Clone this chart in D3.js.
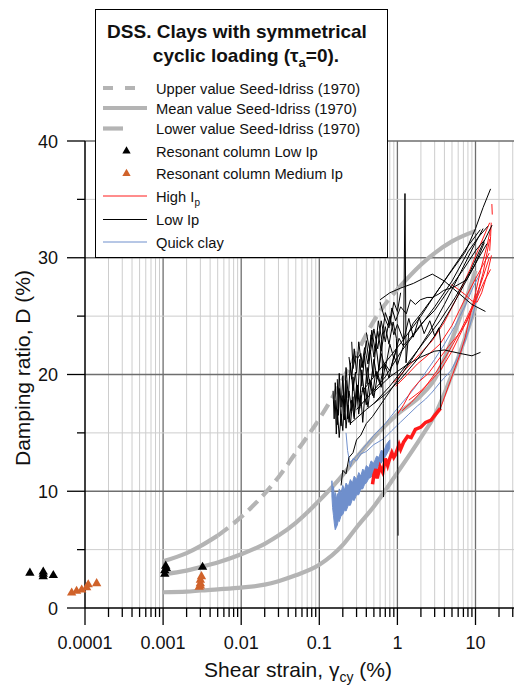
<!DOCTYPE html>
<html>
<head>
<meta charset="utf-8">
<script src="https://cdn.jsdelivr.net/npm/d3@7"></script>
<style>
  body { margin: 0; background: #fff; }
  svg { display: block; }
  text { font-family: "Liberation Sans", Arial, sans-serif; fill: #111; }
</style>
</head>
<body>
<svg id="chart" width="514" height="686"></svg>
<script>
// ---- Seed-Idriss (1970) reference curves: strain (%) vs damping (%) ----
const strainSI = [0.001, 0.002, 0.003, 0.005, 0.01, 0.02, 0.03, 0.05, 0.1, 0.2, 0.3, 0.5, 1, 2, 3, 5, 10];
const upperSI  = [4.0, 4.7, 5.3, 6.2, 7.8, 9.8, 11.2, 13.3, 16.2, 19.6, 21.8, 24.6, 27.3, 29.4, 30.4, 31.4, 32.3];
const meanSI   = [2.9, 3.2, 3.5, 3.9, 4.6, 5.5, 6.2, 7.3, 9.2, 11.4, 12.9, 14.6, 16.6, 18.2, 19.6, 23.0, 28.9];
const lowerSI  = [1.35, 1.4, 1.5, 1.6, 1.75, 2.0, 2.3, 2.8, 3.7, 5.4, 6.9, 8.7, 11.6, 14.6, 16.5, 20.0, 25.8];

// ---- Resonant column results ----
const rcLowStrain = [1.97e-5, 2.92e-5, 2.92e-5, 2.92e-5, 3.93e-5, 0.00105, 0.00105, 0.0011, 0.00108, 0.0032];
const rcLowD      = [3.0, 2.7, 2.9, 3.1, 2.8, 2.9, 3.2, 3.4, 3.6, 3.5];
const rcMedStrain = [6.75e-5, 7.8e-5, 9.07e-5, 1.05e-4, 1.1e-4, 1.41e-4, 0.0029, 0.003, 0.003, 0.0031, 0.003];
const rcMedD      = [1.3, 1.45, 1.55, 1.75, 2.0, 2.1, 1.8, 2.1, 2.4, 2.7, 1.9];

// ---- DSS tests, low plasticity clays: [strain %, D %] ----
const lowIpTests = [
  [[0.35,18.5],[0.5,19.8],[0.8,21.5],[1.2,23],[2,25],[3,26.8],[4.5,28.5],[7.4,30.5],[10,32.5],[12.5,34.3],[15.6,35.9]],
  [[0.3,17],[0.45,18.3],[0.7,19.8],[1.1,21.9],[1.8,23.8],[3,25.8],[5,28],[8,30.5],[11,31.8],[14.4,32.7]],
  [[0.5,17.5],[0.8,19],[1.3,20.8],[2.2,22.8],[3.5,24.6],[5.5,26.6],[8.5,28.8],[12,31],[16.3,32.8]],
  [[0.25,15.8],[0.4,17],[0.7,18.3],[1.1,19.6],[1.8,21.3],[3,23.3],[5,25.8],[8,28.3],[11,30],[14,31.2]],
  [[0.6,26.4],[0.8,27.0],[1.1,27.4],[1.6,27.8],[2.1,28.2],[2.8,28.6],[4,28.0],[6,27.0],[9,26.0],[13.4,25.4]],
  [[0.6,26.2],[0.68,24.9],[0.78,24.0],[0.85,25.7],[0.95,24.6],[1.1,25.8],[1.3,25.2],[1.47,26.4],[1.7,26.0],[1.97,26.4],[2.4,26.6],[2.8,26.6],[3.4,26.9],[3.9,27.2],[5.3,27.5],[7.7,28.1],[10,29.5],[13,31.3]],
  [[0.5,18.5],[0.8,19.8],[1.3,20.8],[2,21.5],[3,22.0],[4,22.1],[6.4,21.8],[9,21.6],[11.6,21.9]],
  [[0.19,10.5],[0.2,11.8],[0.22,11.5],[0.24,12.9],[0.27,13.3],[0.3,14.4],[0.34,14.8],[0.4,15.8],[0.48,16.4],[0.58,17.2],[0.7,18],[1.0,19.5],[1.5,21.2],[2.5,23.5],[4,26],[6.5,28.8],[9.5,31],[12.5,32.5]],
  [[0.17,19.6],[0.175,16.5],[0.18,18.8],[0.19,15.6],[0.2,18.2],[0.21,16.8],[0.22,19.5],[0.23,16.2],[0.24,18.6],[0.26,16.9],[0.27,19.8],[0.29,17.2],[0.31,19.1],[0.33,17.6],[0.35,20.4],[0.38,18.1],[0.41,20.6],[0.45,18.9],[0.5,21.3],[0.55,19.6],[0.62,21.8],[0.7,20.5],[0.8,22.6],[0.9,21.4],[1.05,23.1],[1.2,22.4],[1.25,35.5],[1.29,21.0],[1.4,23.6],[1.6,24.4],[2.0,25.2],[3,26.8],[5,29],[8,31],[11.5,32.4]],
  [[0.16,17.8],[0.165,14.9],[0.17,17],[0.18,14.6],[0.19,16.6],[0.2,15.2],[0.21,17.9],[0.22,15.4],[0.235,17.4],[0.25,15.7],[0.27,18.1],[0.28,16.4],[0.3,18.7],[0.32,16.6],[0.34,18.2],[0.36,15.9],[0.39,18.9],[0.42,17.2],[0.46,19.4],[0.5,18.0],[0.56,20.1],[0.62,18.9],[0.7,20.8],[0.78,19.7],[0.9,21.6],[1.0,20.8],[1.2,22.5],[1.5,23.2],[2,24.3],[3,25.5],[4.5,27.2],[7,29],[10,30.6],[13,31.5]],
  [[0.2,19.5],[0.21,17.3],[0.22,20.6],[0.235,18],[0.25,21],[0.27,18.6],[0.29,20.2],[0.31,17.9],[0.33,21.3],[0.35,19.0],[0.38,21.6],[0.41,19.2],[0.45,22.1],[0.49,19.8],[0.53,22.6],[0.58,20.4],[0.63,23],[0.66,17.5],[0.665,9.5]],
  [[0.24,21.5],[0.26,19.6],[0.28,22.2],[0.3,20.1],[0.32,22.8],[0.35,20.6],[0.38,22.3],[0.42,20.9],[0.46,23.4],[0.5,21.5],[0.56,23.7],[0.62,22],[0.7,24.1],[0.78,22.6],[0.88,24.5],[0.97,23.1],[1.0,20],[1.02,6.2]],
  [[0.4,23.6],[0.45,21.8],[0.5,23.9],[0.56,22.2],[0.62,24.6],[0.7,22.8],[0.8,25],[0.9,23.4],[1.0,24.3],[1.2,22.9],[1.4,24.8],[1.6,23.2],[1.9,24.9],[2.2,23.5],[2.6,24.6],[3.0,23.3],[3.4,24],[3.56,22.9],[3.58,17]],
  [[0.15,18.6],[0.155,16.2],[0.16,19.3],[0.17,15.7],[0.18,20.1],[0.19,17.2],[0.2,19.9],[0.21,16.1],[0.22,18.5],[0.24,15.9],[0.26,17.8],[0.28,16.2],[0.3,19.2],[0.33,17.1],[0.36,18.9],[0.4,17.4],[0.44,19.6],[0.48,18.2],[0.53,20.3],[0.6,19.1],[0.68,21],[0.8,20.3],[1,22.4]],
  [[0.26,22.8],[0.27,20.5],[0.29,21.6],[0.31,21.4],[0.34,21.8],[0.36,20.6],[0.4,22.9],[0.43,21.2],[0.47,23.8],[0.52,22],[0.57,24.6],[0.63,23],[0.7,25.3],[0.8,24.2],[0.9,26.2],[1.0,25.4],[1.1,27]]
];

// ---- DSS tests, high plasticity clays ----
const highIpBand = [[0.48,10.6],[0.5,11.4],[0.53,11.9],[0.55,11.1],[0.6,12.1],[0.65,11.6],[0.7,12.8],[0.75,12.2],[0.78,12.6],[0.85,13.3],[0.9,12.9],[0.94,13.1],[1.05,14.0],[1.1,13.6],[1.2,14.2],[1.35,14.7],[1.5,14.6],[1.7,15.3],[2.0,15.5],[2.3,15.9],[2.7,16.1],[3.1,16.6],[3.56,17.1]];
const highIpTests = [
  [[3.56,17.1],[4.5,19],[5.5,20.6],[6.4,21.8],[7.4,23.2],[8.5,25],[10,27],[12,29.3],[14,31],[15.6,32.5]],
  [[1.0,16.6],[1.2,17.4],[1.5,18.6],[1.9,19.4],[2.5,20.1],[3.3,21.2],[4.5,22.4],[6,23.4],[7.7,24.5],[10,26.3],[12.5,28.7],[15.2,31.6]],
  [[0.95,19.0],[1.3,19.9],[1.8,20.9],[2.4,21.6],[3.5,22.6],[5,24.2],[7,26.2],[10,28.2],[13,29.6],[15,30.4]],
  [[1.4,17.8],[2,18.6],[2.8,19.6],[3.6,20.4],[5,22],[7,24],[10,26.3],[13,28],[15.6,29]],
  [[4.9,27.7],[6,27.3],[7.5,26.8],[9,26.3],[10.5,26.2],[12,27],[14,28.5],[16,30.2]],
  [[1.15,16.9],[1.5,17.6],[2.2,18.8],[3.2,20.3],[4.5,21.9],[6.5,23.8],[9,25.8],[12,28],[15,30]],
  [[0.9,19.3],[1.3,20.5],[1.9,21.7],[2.8,22.9],[4,24.5],[6,26.8],[8.5,29],[11,30.8],[13.5,32.2],[15.2,33]],
  [[16.2,34.6],[16.4,33.7]],
  [[15.9,33.0],[15.6,31.8],[15.2,30.6]]
];

// ---- DSS tests, quick clay ----
const quickStrain = [0.145, 0.148, 0.152, 0.156, 0.16, 0.165, 0.17, 0.175, 0.18, 0.19, 0.2, 0.21, 0.22, 0.235, 0.25, 0.265, 0.28, 0.3, 0.32, 0.34, 0.36, 0.38, 0.4, 0.43, 0.46, 0.5, 0.54, 0.58, 0.62, 0.67, 0.72, 0.8];
const quickHigh   = [10.9, 10.0, 10.4, 9.5, 9.9, 9.3, 9.8, 9.6, 10.2, 9.9, 10.5, 10.1, 10.7, 10.4, 11.0, 10.7, 11.3, 11.0, 11.6, 11.3, 11.9, 11.7, 12.2, 12.0, 12.6, 12.4, 13.0, 12.9, 13.5, 13.4, 14.0, 14.4];
const quickLow    = [9.6, 8.6, 7.9, 7.2, 6.7, 6.9, 7.1, 7.5, 7.4, 7.9, 8.0, 8.4, 8.3, 8.8, 8.8, 9.3, 9.2, 9.7, 9.7, 10.2, 10.2, 10.6, 10.7, 11.1, 11.2, 11.7, 11.8, 12.3, 12.4, 12.8, 13.1, 13.7];
const quickTests = [
  [[0.22,15.0],[0.23,13.5],[0.25,12.1],[0.27,12.8],[0.3,12.6],[0.34,13.2],[0.4,13.4],[0.5,14.0],[0.67,14.5],[0.85,15.2],[1.09,15.9],[1.4,16.6],[1.8,17.3],[2.3,17.9],[2.8,18.5],[3.6,19.4],[4.8,20.3],[6,21.5],[7.5,23],[9,24.8],[10.5,26.5],[12,28.3]],
  [[0.24,12.4],[0.3,13.0],[0.4,14.0],[0.5,14.8],[0.7,15.8],[1.0,17.1],[1.6,18.7],[2.2,20.0],[3,21.3],[4,22.6],[5.5,24.2],[7.5,26],[9.5,27.6],[11.8,28.8]]
];

// ---- axis labels ----
const xTickValues = [1e-4, 1e-3, 1e-2, 1e-1, 1, 10];
const xTickLabels = ["0.0001", "0.001", "0.01", "0.1", "1", "10"];
const yTickValues = [0, 10, 20, 30, 40];

// ---- colours ----
const C = {
  grey: "#b4b4b4", red: "#ff1a1a", black: "#000", blue: "#6f8fcc",
  orange: "#d0622a", gridMajor: "#6e6e6e", gridMinor: "#cdcdcd"
};

const svg = d3.select("#chart");
const x = d3.scaleLog().domain([1e-4, 10]).range([85, 475.5]);
const y = d3.scaleLinear().domain([0, 40]).range([608, 141]);
const xRight = 514;

// grid
const gridX = [];
for (let e = -4; e <= 1; e++) for (let k = 1; k <= 9; k++) {
  const v = k * Math.pow(10, e);
  if (v <= 30.5) gridX.push({ v, major: k === 1 });
}
const g = svg.append("g");
g.selectAll(".gx").data(gridX.filter(d => d.v > 1.0001e-4)).join("line")
  .attr("x1", d => x(d.v)).attr("x2", d => x(d.v))
  .attr("y1", y(0)).attr("y2", y(40))
  .attr("stroke", d => d.major ? C.gridMajor : C.gridMinor)
  .attr("stroke-width", d => d.major ? 1.3 : 1);
const gridY = d3.range(5, 41, 5);
g.selectAll(".gy").data(gridY).join("line")
  .attr("x1", x(1e-4)).attr("x2", xRight)
  .attr("y1", d => y(d)).attr("y2", d => y(d))
  .attr("stroke", d => d % 10 === 0 ? C.gridMajor : C.gridMinor)
  .attr("stroke-width", d => d % 10 === 0 ? 1.3 : 1);

// axes
const ax = svg.append("g");
ax.append("line").attr("x1", x(1e-4)).attr("x2", xRight).attr("y1", y(0)).attr("y2", y(0))
  .attr("stroke", "#000").attr("stroke-width", 1.5);
ax.append("line").attr("x1", x(1e-4)).attr("x2", x(1e-4)).attr("y1", y(0)).attr("y2", y(40))
  .attr("stroke", "#000").attr("stroke-width", 1.5);
ax.selectAll(".xt").data(gridX).join("line")
  .attr("x1", d => x(d.v)).attr("x2", d => x(d.v))
  .attr("y1", y(0)).attr("y2", d => y(0) + (d.major ? 17 : 9))
  .attr("stroke", "#000").attr("stroke-width", 1.3);
ax.selectAll(".yt").data(gridY.concat([0])).join("line")
  .attr("x1", d => x(1e-4) - (d % 10 === 0 ? 18 : 8)).attr("x2", x(1e-4))
  .attr("y1", d => y(d)).attr("y2", d => y(d))
  .attr("stroke", "#000").attr("stroke-width", 1.3);
ax.selectAll(".xl").data(xTickValues).join("text")
  .attr("x", d => x(d)).attr("y", 649).attr("text-anchor", "middle")
  .attr("font-size", 18).text((d, i) => xTickLabels[i]);
ax.selectAll(".yl").data(yTickValues).join("text")
  .attr("x", 58).attr("y", d => y(d) + 6.5).attr("text-anchor", "end")
  .attr("font-size", 18).text(d => d);

const xt = ax.append("text").attr("x", 298).attr("y", 677).attr("text-anchor", "middle").attr("font-size", 21);
xt.append("tspan").text("Shear strain, γ");
xt.append("tspan").attr("font-size", 14).attr("dy", 5).text("cy");
xt.append("tspan").attr("dy", -5).text(" (%)");
ax.append("text").attr("transform", `translate(30,368) rotate(-90)`).attr("text-anchor", "middle")
  .attr("font-size", 21).text("Damping ratio, D (%)");

// curves
const line = d3.line().x(d => x(d[0])).y(d => y(d[1])).curve(d3.curveMonotoneX);
const jag = d3.line().x(d => x(d[0])).y(d => y(d[1]));
const pairs = (s, v) => s.map((d, i) => [d, v[i]]);

const cv = svg.append("g").attr("fill", "none").attr("stroke", C.grey).attr("stroke-width", 4.2);
const up = pairs(strainSI, upperSI);
cv.append("path").attr("d", line(up.filter(d => d[0] <= 0.005)));
cv.append("path").attr("d", line(up.filter(d => d[0] >= 0.005 && d[0] <= 1))).attr("stroke-dasharray", "13,7");
cv.append("path").attr("d", line(up.filter(d => d[0] >= 1)));
cv.append("path").attr("d", line(pairs(strainSI, meanSI)));
cv.append("path").attr("d", line(pairs(strainSI, lowerSI)));

// test data
const dg = svg.append("g").attr("fill", "none");
dg.append("path")
  .attr("d", d3.area().x((d, i) => x(quickStrain[i])).y0((d, i) => y(quickLow[i])).y1((d, i) => y(quickHigh[i]))(quickStrain))
  .attr("fill", C.blue).attr("stroke", C.blue).attr("stroke-width", 1);
dg.selectAll(".q").data(quickTests).join("path").attr("d", jag).attr("stroke", C.blue).attr("stroke-width", 1);
dg.append("path").attr("d", jag(highIpBand)).attr("stroke", C.red).attr("stroke-width", 3.5);
dg.selectAll(".h").data(highIpTests).join("path").attr("d", jag).attr("stroke", C.red).attr("stroke-width", 1);
dg.selectAll(".l").data(lowIpTests).join("path").attr("d", jag).attr("stroke", C.black).attr("stroke-width", 1);

// resonant column triangles
const tri = d3.symbol(d3.symbolTriangle, 38);
svg.append("g").selectAll("path").data(pairs(rcMedStrain, rcMedD)).join("path")
  .attr("d", tri).attr("transform", d => `translate(${x(d[0])},${y(d[1])})`).attr("fill", C.orange);
svg.append("g").selectAll("path").data(pairs(rcLowStrain, rcLowD)).join("path")
  .attr("d", tri).attr("transform", d => `translate(${x(d[0])},${y(d[1])})`).attr("fill", C.black);

// legend
const lg = svg.append("g");
lg.append("rect").attr("x", 95.5).attr("y", 9.5).attr("width", 292).attr("height", 248)
  .attr("fill", "#fff").attr("stroke", "#000").attr("stroke-width", 1);
lg.append("text").attr("x", 237).attr("y", 38).attr("text-anchor", "middle")
  .attr("font-size", 19).attr("font-weight", "bold").text("DSS. Clays with symmetrical");
const t2 = lg.append("text").attr("x", 246).attr("y", 62).attr("text-anchor", "middle")
  .attr("font-size", 19).attr("font-weight", "bold");
t2.append("tspan").text("cyclic loading (τ");
t2.append("tspan").attr("font-size", 13).attr("dy", 5).text("a");
t2.append("tspan").attr("dy", -5).text("=0).");

const entries = [
  { label: "Upper value Seed-Idriss (1970)", kind: "line", color: C.grey, w: 4.2, dash: "10,12", y: 88 },
  { label: "Mean value Seed-Idriss (1970)", kind: "line", color: C.grey, w: 4.2, dash: null, y: 108 },
  { label: "Lower value Seed-Idriss (1970)", kind: "line", color: C.grey, w: 4.2, dash: "20,30", y: 128.5 },
  { label: "Resonant column Low Ip", kind: "tri", color: C.black, y: 151 },
  { label: "Resonant column Medium Ip", kind: "tri", color: C.orange, y: 173.5 },
  { label: "High I", sub: "p", kind: "line", color: C.red, w: 1, y: 196 },
  { label: "Low Ip", kind: "line", color: C.black, w: 1, y: 219.5 },
  { label: "Quick clay", kind: "line", color: C.blue, w: 1, y: 242 }
];
entries.forEach(e => {
  if (e.kind === "line") {
    lg.append("line").attr("x1", 103).attr("x2", 147).attr("y1", e.y).attr("y2", e.y)
      .attr("stroke", e.color).attr("stroke-width", e.w).attr("stroke-dasharray", e.dash);
  } else {
    lg.append("path").attr("d", d3.symbol(d3.symbolTriangle, 30)())
      .attr("transform", `translate(126.5,${e.y})`).attr("fill", e.color);
  }
  const t = lg.append("text").attr("x", 156).attr("y", e.y + 5.5).attr("font-size", 14.7).text(e.label);
  if (e.sub) t.append("tspan").attr("font-size", 10).attr("dy", 4).text(e.sub);
});
</script>
</body>
</html>
